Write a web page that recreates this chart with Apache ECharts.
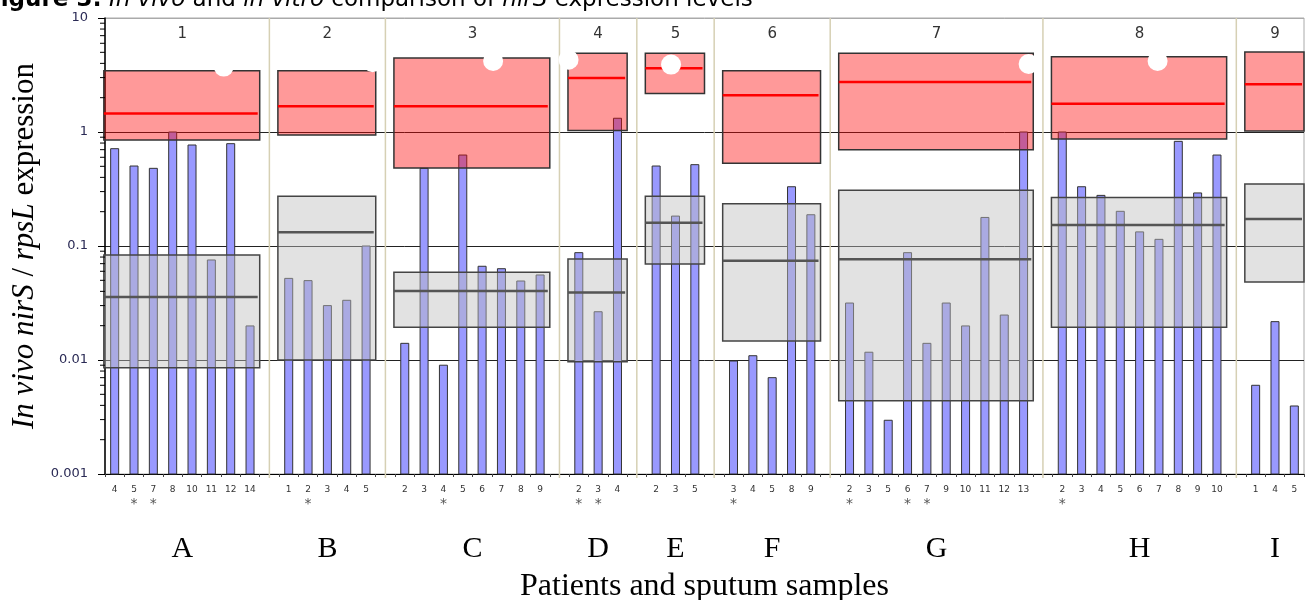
<!DOCTYPE html>
<html>
<head>
<meta charset="utf-8">
<script src="https://cdn.jsdelivr.net/npm/echarts@6/dist/echarts.min.js"></script>
<style>
    html, body { margin: 0; padding: 0; background: #fff; }
    #main { width: 1306px; height: 600px; }
</style>
</head>
<body>
<div id="main"></div>
<script>
// patients (bottom letters) and the numbers shown at the top of each panel
const patients = ['A', 'B', 'C', 'D', 'E', 'F', 'G', 'H', 'I']
const patientNumbers = ['1', '2', '3', '4', '5', '6', '7', '8', '9']
// sputum sample numbers per patient
const samples = [
    [4, 5, 7, 8, 10, 11, 12, 14],
    [1, 2, 3, 4, 5],
    [2, 3, 4, 5, 6, 7, 8, 9],
    [2, 3, 4],
    [2, 3, 5],
    [3, 4, 5, 8, 9],
    [2, 3, 5, 6, 7, 9, 10, 11, 12, 13],
    [2, 3, 4, 5, 6, 7, 8, 9, 10],
    [1, 4, 5]
]
// in vivo nirS / rpsL expression per sample (bars)
const inVivo = [
    [0.714, 0.503, 0.48, 1.0, 0.769, 0.0754, 0.79, 0.0199],
    [0.052, 0.0497, 0.030, 0.0334, 0.1],
    [0.014, 0.48, 0.009, 0.628, 0.0664, 0.0632, 0.0493, 0.0557],
    [0.0874, 0.0265, 1.32],
    [0.503, 0.183, 0.517],
    [0.0098, 0.0109, 0.007, 0.331, 0.188],
    [0.0316, 0.0117, 0.00296, 0.0874, 0.014, 0.0316, 0.0199, 0.178, 0.0248, 1.0],
    [1.0, 0.331, 0.278, 0.2015, 0.133, 0.1144, 0.828, 0.292, 0.628],
    [0.006, 0.0217, 0.00395]
]
// samples marked with an asterisk
const starred = [[5, 7], [2], [4], [2, 3], [], [3], [2, 6, 7], [2], []]
// in vitro range per patient: [low, median, high]  (red boxes)
const inVitroRange = [
    [0.85, 1.45, 3.45],
    [0.94, 1.68, 3.45],
    [0.483, 1.68, 4.46],
    [1.03, 2.98, 4.9],
    [2.18, 3.62, 4.9],
    [0.531, 2.1, 3.45],
    [0.70, 2.75, 4.9],
    [0.868, 1.77, 4.58],
    [1.02, 2.62, 5.03]
]
// in vivo range per patient: [low, median, high]  (grey boxes)
const inVivoRange = [
    [0.00857, 0.0357, 0.0834],
    [0.01, 0.132, 0.273],
    [0.0194, 0.0403, 0.0588],
    [0.00966, 0.039, 0.0769],
    [0.0695, 0.160, 0.273],
    [0.0147, 0.0743, 0.235],
    [0.0044, 0.0764, 0.308],
    [0.0194, 0.153, 0.267],
    [0.0483, 0.1725, 0.35]
]
// white round cut-outs on the top edge of some red boxes: [slot, shift in slots, value]
const blobs = [
    [6, -0.36, 3.75], [13, 0.34, 4.1], [20, -0.43, 4.2], [23, 0.47, 4.3],
    [29, -0.23, 3.9], [47, 0.26, 3.95], [54, -0.07, 4.2]
]
const yMin = 0.001
const yMax = 10

// build the slots of the category axis, one empty slot between patients
const categories = []
const barData = []
const starSlots = []
const groupSpan = []
const separators = []
samples.forEach((list, g) => {
    if (g > 0) {
        separators.push(categories.length)
        categories.push('')
    }
    const first = categories.length
    list.forEach((s, k) => {
        if (starred[g].includes(s)) starSlots.push(categories.length)
        barData.push([categories.length, inVivo[g][k]])
        categories.push(String(s))
    })
    groupSpan.push([first, categories.length - 1])
})

// log minor ticks 2..9 of every decade
const minorTicks = []
for (let d = yMin; d < yMax; d *= 10) {
    for (let m = 2; m <= 9; m++) minorTicks.push([0, +(d * m).toPrecision(3)])
}

function boxRenderer(fill, border, medianColor, medianWidth) {
    return function (params, api) {
        const first = api.value(0)
        const last = api.value(1)
        const band = api.coord([1, 1])[0] - api.coord([0, 1])[0]
        const x0 = api.coord([first, 1])[0] - band * 0.56
        const x1 = api.coord([last, 1])[0] + band * 0.5
        const yLow = api.coord([first, api.value(2)])[1]
        const yMed = api.coord([first, api.value(3)])[1]
        const yHigh = api.coord([first, api.value(4)])[1]
        return {
            type: 'group',
            children: [
                {
                    type: 'rect',
                    shape: { x: x0, y: yHigh, width: x1 - x0, height: yLow - yHigh },
                    style: { fill: fill, stroke: border, lineWidth: 1.5 }
                },
                {
                    type: 'line',
                    shape: { x1: x0, y1: yMed, x2: x1 - 2, y2: yMed },
                    style: { stroke: medianColor, lineWidth: medianWidth }
                }
            ]
        }
    }
}

const myChart = echarts.init(document.getElementById('main'))
const option = {
    animation: false,
    grid: {
        left: 105, right: 2, top: 18, bottom: 126,
        outerBoundsMode: 'none',
        containLabel: false,
        show: true, borderColor: '#aaa', borderWidth: 1, backgroundColor: 'transparent'
    },
    graphic: [
        {
            type: 'text',
            x: -15,
            y: 12,
            z: 100,
            style: {
                text: '{b|Figure 3:} {i|In vivo} and {i|in vitro} comparison of {i|nirS} expression levels',
                verticalAlign: 'bottom',
                fill: '#000',
                font: '23px "DejaVu Sans"',
                rich: {
                    b: { fontWeight: 'bold', fontSize: 23, fontFamily: 'DejaVu Sans' },
                    i: { fontStyle: 'italic', fontSize: 23, fontFamily: 'DejaVu Sans' }
                }
            }
        }
    ],
    xAxis: {
        type: 'category',
        data: categories,
        boundaryGap: true,
        axisLine: { lineStyle: { color: '#000', width: 1 } },
        axisTick: { show: true, interval: 0, length: 3, lineStyle: { color: '#444' } },
        axisLabel: {
            interval: 0,
            fontSize: 9,
            fontFamily: 'DejaVu Sans',
            color: '#333',
            margin: 8,
            lineHeight: 15,
            formatter: function (value, index) {
                return starSlots.includes(index) ? value + '\n{s|*}' : value
            },
            rich: {
                s: { fontSize: 14, color: '#555', lineHeight: 15, fontFamily: 'DejaVu Sans' }
            }
        },
        splitLine: { show: false },
        name: 'Patients and sputum samples',
        nameLocation: 'middle',
        nameGap: 97,
        nameTextStyle: { fontFamily: 'Liberation Serif', fontSize: 32, color: '#000' }
    },
    yAxis: {
        type: 'log',
        logBase: 10,
        min: yMin,
        max: yMax,
        axisLine: { show: true, lineStyle: { color: '#000', width: 1.5 } },
        axisTick: { show: true, length: 7, lineStyle: { color: '#000' } },
        axisLabel: {
            fontSize: 13,
            fontFamily: 'DejaVu Sans',
            color: '#2a2a55',
            margin: 17
        },
        splitLine: {
            show: true,
            lineStyle: { color: ['#000', '#222', '#222', '#222', '#aaa'], width: 1 }
        },
        name: '{i|In vivo nirS} / {i|rpsL} expression',
        nameLocation: 'middle',
        nameRotate: 90,
        nameGap: 62,
        nameTextStyle: {
            fontFamily: 'Liberation Serif',
            fontSize: 31,
            color: '#000',
            rich: {
                i: { fontStyle: 'italic', fontFamily: 'Liberation Serif', fontSize: 31 }
            }
        }
    },
    series: [
        {
            // 分隔线
            name: 'separators',
            type: 'custom',
            clip: false,
            silent: true,
            data: separators.map(s => [s, 1]),
            encode: { x: 0, y: 1 },
            renderItem: function (params, api) {
                const x = api.coord([api.value(0), 1])[0]
                const top = params.coordSys.y
                const bottom = top + params.coordSys.height
                return {
                    type: 'line',
                    shape: { x1: x, y1: top, x2: x, y2: bottom + 4 },
                    style: { stroke: '#d6d0b4', lineWidth: 1.5 }
                }
            }
        },
        {
            // y轴次刻度
            name: 'minor ticks',
            type: 'custom',
            clip: false,
            silent: true,
            z: 10,
            data: minorTicks,
            encode: { x: 0, y: 1 },
            renderItem: function (params, api) {
                const y = api.coord([0, api.value(1)])[1]
                const x = params.coordSys.x
                return {
                    type: 'line',
                    shape: { x1: x - 5, y1: y, x2: x, y2: y },
                    style: { stroke: '#000', lineWidth: 1 }
                }
            }
        },
        {
            // 柱子从坐标轴底部开始
            name: 'in vivo',
            type: 'custom',
            data: barData,
            encode: { x: 0, y: 1 },
            renderItem: function (params, api) {
                const p = api.coord([api.value(0), api.value(1)])
                const bottom = params.coordSys.y + params.coordSys.height
                return {
                    type: 'rect',
                    shape: { x: p[0] - 4, y: p[1], width: 8, height: bottom - p[1] },
                    style: { fill: '#9999ff', stroke: '#333', lineWidth: 1 }
                }
            }
        },
        {
            name: 'in vitro range',
            type: 'custom',
            clip: false,
            data: groupSpan.map((sp, g) => [sp[0], sp[1]].concat(inVitroRange[g])),
            encode: { x: [0, 1], y: [2, 3, 4] },
            renderItem: boxRenderer('rgba(255,0,0,0.4)', '#333', '#ff0000', 2.5)
        },
        {
            name: 'in vivo range',
            type: 'custom',
            clip: false,
            data: groupSpan.map((sp, g) => [sp[0], sp[1]].concat(inVivoRange[g])),
            encode: { x: [0, 1], y: [2, 3, 4] },
            renderItem: boxRenderer('rgba(190,190,190,0.45)', '#444', '#555', 2.5)
        },
        {
            name: 'cut-outs',
            type: 'custom',
            clip: false,
            silent: true,
            data: blobs,
            encode: { x: 0, y: 2 },
            renderItem: function (params, api) {
                const band = api.coord([1, 1])[0] - api.coord([0, 1])[0]
                const p = api.coord([api.value(0), api.value(2)])
                return {
                    type: 'circle',
                    shape: { cx: p[0] + api.value(1) * band, cy: p[1], r: 10 },
                    style: { fill: '#fff' }
                }
            }
        },
        {
            name: 'patients',
            type: 'custom',
            clip: false,
            silent: true,
            data: groupSpan.map((sp, g) => [sp[0], sp[1], g]),
            encode: { x: [0, 1] },
            renderItem: function (params, api) {
                const g = api.value(2)
                const x = (api.coord([api.value(0), 1])[0] + api.coord([api.value(1), 1])[0]) / 2
                const top = params.coordSys.y
                const bottom = top + params.coordSys.height
                return {
                    type: 'group',
                    children: [
                        {
                            type: 'text',
                            style: {
                                x: x, y: top + 16, text: patientNumbers[g],
                                fontSize: 15, fontFamily: 'DejaVu Sans', fill: '#333',
                                align: 'center', verticalAlign: 'middle'
                            }
                        },
                        {
                            type: 'text',
                            style: {
                                x: x, y: bottom + 75, text: patients[g],
                                fontSize: 30, fontFamily: 'Liberation Serif', fill: '#000',
                                align: 'center', verticalAlign: 'middle'
                            }
                        }
                    ]
                }
            }
        }
    ]
}
myChart.setOption(option)
</script>
</body>
</html>
